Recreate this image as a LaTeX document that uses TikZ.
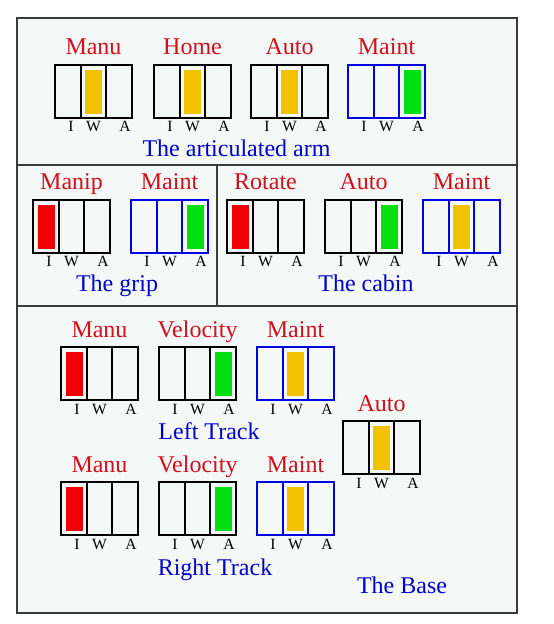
\documentclass[tikz,border=0pt]{standalone}
\usepackage{fontspec}
\setmainfont{Liberation Serif}
\definecolor{RT}{HTML}{D0101C}
\definecolor{BT}{HTML}{0000CC}
\definecolor{BB}{HTML}{0000E0}
\definecolor{FR}{HTML}{3A3A3A}
\definecolor{BG}{HTML}{F4F8F6}
\definecolor{OR}{HTML}{F2C200}
\definecolor{GR}{HTML}{00E010}
\definecolor{RD}{HTML}{F00000}

\begin{document}
\begin{tikzpicture}[x=0.5pt, y=-0.5pt,
    title/.style={anchor=base, text=RT, font=\fontsize{12}{14}\selectfont, inner sep=0},
    part/.style={anchor=base, text=BT, font=\fontsize{12}{14}\selectfont, inner sep=0},
    lab/.style={anchor=base, font=\fontsize{7.8}{9}\selectfont, inner sep=0}]
    \fill[white] (0,0) rectangle (553,624);
    \draw[FR, fill=BG, line width=0.6pt] (17,18) rectangle (517,613);
    \draw[FR, line width=0.6pt] (17,165) -- (517,165);
    \draw[FR, line width=0.6pt] (217,165) -- (217,306);
    \draw[FR, line width=0.6pt] (17,306) -- (517,306);
    \foreach \x/\y/\c/\k/\f/\t [count=\n] in {
        55/65/black/2/OR/Manu, 154/65/black/2/OR/Home, 251/65/black/2/OR/Auto, 348/65/BB/3/GR/Maint,
        33/200/black/1/RD/Manip, 131/200/BB/3/GR/Maint, 227/200/black/1/RD/Rotate,
        325/200/black/3/GR/Auto, 423/200/BB/2/OR/Maint,
        61/347/black/1/RD/Manu, 159/347/black/3/GR/Velocity, 257/347/BB/2/OR/Maint,
        61/482/black/1/RD/Manu, 159/482/black/3/GR/Velocity, 257/482/BB/2/OR/Maint,
        343/421/black/2/OR/Auto}{
        \fill[\f] ({\x+(\k-1)*25.67+4.5}, \y+5) rectangle ++(17,44);
        \draw[\c, line width=1pt] (\x,\y) rectangle ++(77,53);
        \draw[\c, line width=1pt] (\x+25.67,\y) -- ++(0,53) (\x+51.33,\y) -- ++(0,53);
        \node[title] (t\n) at (\x+38.5, \y-10) {\t};
        \node[lab] (i\n) at (\x+16, \y+67) {I};
        \node[lab] (w\n) at (\x+38.5, \y+67) {W};
        \node[lab] (a\n) at (\x+70, \y+67) {A};
    }
    \node[part] (arm) at (236.5,157) {The articulated arm};
    \node[part] (grip) at (117,292) {The grip};
    \node[part] (cabin) at (366,292) {The cabin};
    \node[part] (left) at (209,439) {Left Track};
    \node[part] (right) at (215,575) {Right Track};
    \node[part] (base) at (402,593) {The Base};
\end{tikzpicture}
\end{document}
